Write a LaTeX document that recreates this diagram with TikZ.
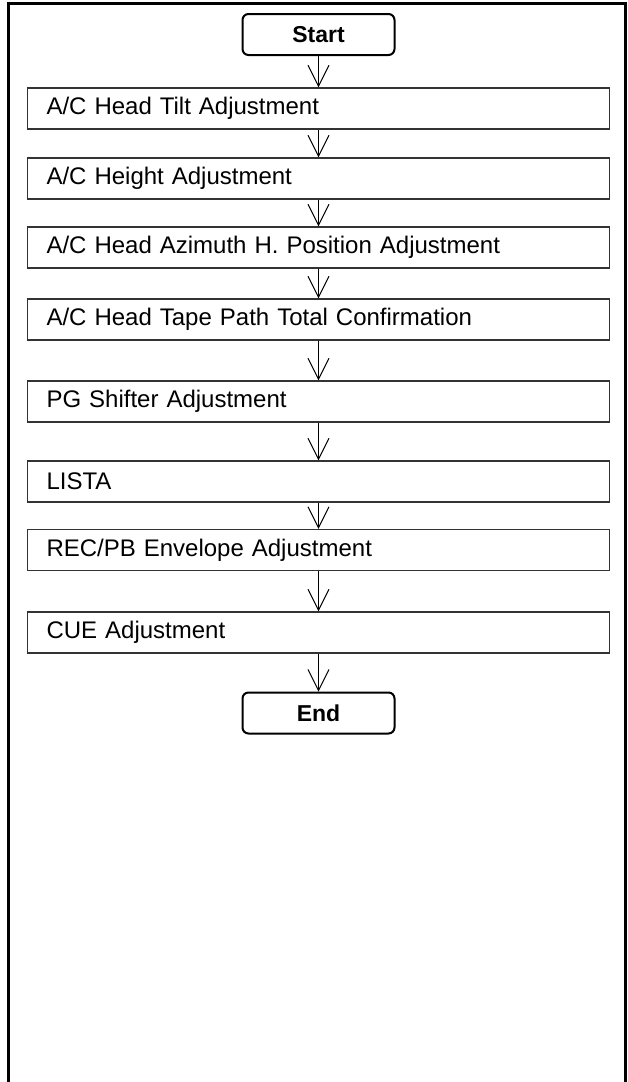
\documentclass[tikz,border=0pt]{standalone}
\usepackage{fontspec}
\setmainfont{Liberation Sans}
\usetikzlibrary{arrows.meta}
\begin{document}
\begin{tikzpicture}[x=1pt,y=-1pt,
  stepbox/.style={draw=black!80, line width=1.3pt, minimum width=582pt, minimum height=41pt,
    inner xsep=19pt, inner ysep=0pt, text width=544pt, align=left,
    font=\fontsize{24}{28}\selectfont},
  termbox/.style={draw=black, line width=2pt, rounded corners=6pt, minimum width=152pt,
    minimum height=41pt, inner sep=0pt, font=\fontsize{23}{27}\selectfont\bfseries},
  flow/.style={line width=1pt, -{Straight Barb[length=21pt,width=21pt,line width=1pt]}}]
\useasboundingbox (0,0) rectangle (628,1082);
\fill[white] (0,0) rectangle (628,1082);
\draw[line width=3pt] (8,1084) -- (8,3.5) -- (625.5,3.5) -- (625.5,1084);
\node[termbox] (s) at (318.5,34.5) {Start};
\node[stepbox] (b1) at (318.5,108.5) {A/C Head Tilt Adjustment};
\node[stepbox] (b2) at (318.5,178.5) {A/C Height Adjustment};
\node[stepbox] (b3) at (318.5,247.5) {A/C Head Azimuth H. Position Adjustment};
\node[stepbox] (b4) at (318.5,319.5) {A/C Head Tape Path Total Confirmation};
\node[stepbox] (b5) at (318.5,401.5) {PG Shifter Adjustment};
\node[stepbox] (b6) at (318.5,481.5) {LISTA};
\node[stepbox] (b7) at (318.5,550) {REC/PB Envelope Adjustment};
\node[stepbox] (b8) at (318.5,632.5) {CUE Adjustment};
\node[termbox] (e) at (318.5,713) {End};
\draw[flow] (s) -- (b1);
\draw[flow] (b1) -- (b2);
\draw[flow] (b2) -- (b3);
\draw[flow] (b3) -- (b4);
\draw[flow] (b4) -- (b5);
\draw[flow] (b5) -- (b6);
\draw[flow] (b6) -- (b7);
\draw[flow] (b7) -- (b8);
\draw[flow] (b8) -- (e);
\end{tikzpicture}
\end{document}
